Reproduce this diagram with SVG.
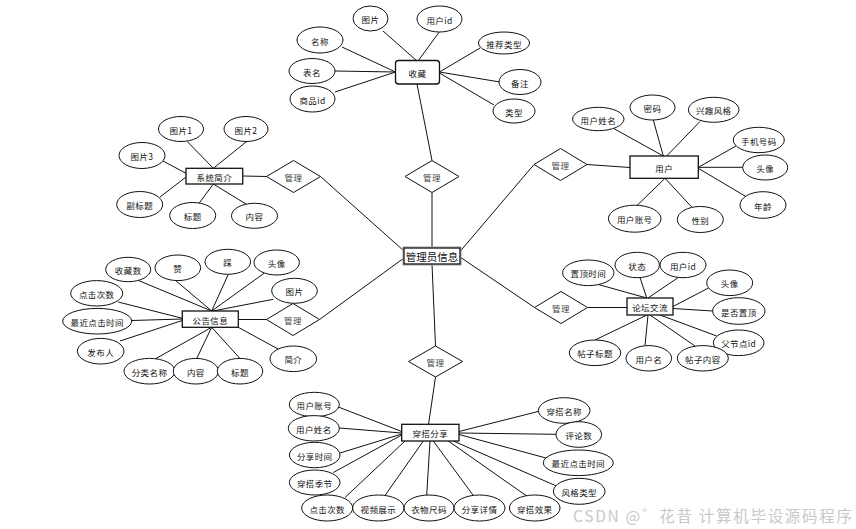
<svg xmlns="http://www.w3.org/2000/svg" width="856" height="529" viewBox="0 0 856 529">
<style>
text{font-family:"Noto Sans CJK SC","Liberation Sans",sans-serif;text-anchor:middle;dominant-baseline:central;fill:#111}
.a text{font-size:8.5px;letter-spacing:0.4px}
ellipse{fill:#fff;stroke:#111;stroke-width:1}
.e rect{fill:#fff;stroke:#111;stroke-width:1.3}
.d polygon{fill:#fff;stroke:#111;stroke-width:1}
.d text{font-size:8.5px;fill:#444;letter-spacing:0.4px}
.e text{font-size:8.5px;letter-spacing:0.4px}
#conn line{stroke:#111;stroke-width:1}
.wm{font-size:15.5px;fill:#c8c8c8;text-anchor:start}
</style>
<rect width="856" height="529" fill="#fff"/>
<g id="conn">
<line x1="417" y1="84" x2="432" y2="160.5"/>
<line x1="432" y1="192.5" x2="432" y2="248"/>
<line x1="320.5" y1="176.5" x2="404" y2="251"/>
<line x1="242.7" y1="176" x2="266.5" y2="176.5"/>
<line x1="319.5" y1="319.5" x2="404" y2="258"/>
<line x1="238.3" y1="319.5" x2="266.5" y2="319.5"/>
<line x1="534" y1="164.5" x2="460" y2="251.5"/>
<line x1="587" y1="164.5" x2="630" y2="167.5"/>
<line x1="534.5" y1="307.5" x2="460" y2="257"/>
<line x1="587.5" y1="307.5" x2="627" y2="307.5"/>
<line x1="432" y1="264" x2="435.5" y2="346"/>
<line x1="435.5" y1="377" x2="428.5" y2="424.5"/>
<line x1="383" y1="31" x2="417" y2="61"/>
<line x1="440" y1="31" x2="418" y2="61"/>
<line x1="342" y1="47" x2="395.5" y2="72"/>
<line x1="335" y1="71" x2="395.5" y2="72"/>
<line x1="335" y1="92" x2="395.5" y2="72"/>
<line x1="480" y1="48" x2="439.5" y2="72"/>
<line x1="500" y1="82" x2="439.5" y2="72"/>
<line x1="494" y1="105" x2="439.5" y2="73"/>
<line x1="187.3" y1="141.5" x2="213.3" y2="168.3"/>
<line x1="246.7" y1="141.5" x2="213.3" y2="168.3"/>
<line x1="163" y1="161" x2="186" y2="173.3"/>
<line x1="160" y1="197" x2="186" y2="177"/>
<line x1="199.3" y1="203" x2="213.3" y2="184"/>
<line x1="246" y1="204" x2="213.3" y2="184"/>
<line x1="613.3" y1="128.3" x2="663.3" y2="156"/>
<line x1="653.3" y1="120" x2="663.3" y2="156"/>
<line x1="700" y1="121.5" x2="666.7" y2="156"/>
<line x1="736" y1="146" x2="698.3" y2="167.3"/>
<line x1="742.7" y1="167.3" x2="698.3" y2="167.3"/>
<line x1="746.7" y1="197" x2="698.3" y2="168.3"/>
<line x1="637" y1="205.5" x2="665" y2="178.3"/>
<line x1="691.7" y1="207" x2="665" y2="178.3"/>
<line x1="139" y1="280.7" x2="211.7" y2="311"/>
<line x1="175" y1="280" x2="211.7" y2="311"/>
<line x1="228.3" y1="274.3" x2="211.7" y2="311"/>
<line x1="264" y1="273.3" x2="211.7" y2="311"/>
<line x1="273.3" y1="299.3" x2="213" y2="311"/>
<line x1="118.3" y1="302" x2="182.3" y2="318.3"/>
<line x1="131.7" y1="320.5" x2="182.3" y2="319"/>
<line x1="120" y1="341" x2="182.3" y2="320.5"/>
<line x1="155" y1="359" x2="211.7" y2="327.3"/>
<line x1="196.7" y1="358.5" x2="211.7" y2="327.3"/>
<line x1="240" y1="358.5" x2="211.7" y2="327.3"/>
<line x1="278" y1="349" x2="238.3" y2="327.3"/>
<line x1="598.3" y1="284.5" x2="646.7" y2="298"/>
<line x1="640" y1="277.5" x2="646.7" y2="298"/>
<line x1="678.3" y1="277.5" x2="648" y2="298"/>
<line x1="708.5" y1="288" x2="673" y2="306.5"/>
<line x1="712.6" y1="311" x2="673" y2="308.5"/>
<line x1="716.7" y1="336" x2="660" y2="315"/>
<line x1="695" y1="346" x2="650" y2="315"/>
<line x1="645" y1="345.7" x2="648" y2="315"/>
<line x1="595" y1="340" x2="647" y2="315"/>
<line x1="338.3" y1="407" x2="401.7" y2="431.5"/>
<line x1="339.3" y1="428" x2="401.7" y2="433"/>
<line x1="340" y1="453" x2="401.7" y2="434"/>
<line x1="333.3" y1="472.5" x2="401.7" y2="435"/>
<line x1="345" y1="497.5" x2="405" y2="441"/>
<line x1="385" y1="495.5" x2="423.3" y2="441"/>
<line x1="426.7" y1="495" x2="430" y2="441"/>
<line x1="473.3" y1="495.5" x2="433.3" y2="441"/>
<line x1="526.7" y1="496" x2="448.3" y2="441"/>
<line x1="540" y1="411" x2="459" y2="431.5"/>
<line x1="556" y1="434.3" x2="459" y2="433"/>
<line x1="546" y1="458" x2="459" y2="434.5"/>
<line x1="563.3" y1="489" x2="453.3" y2="441"/>
</g>

<g id="admin" class="e">
<rect x="403" y="247" width="58" height="18" fill="none" style="stroke:#999;stroke-width:1"/>
<rect x="404" y="248" width="56" height="16"/>
<text x="432" y="256.5" style="font-size:10.5px;letter-spacing:0">管理员信息</text>
</g>

<g id="rel-collect" class="d"><polygon points="432,160.5 459,176.5 432,192.5 405,176.5"/><text x="432" y="177">管理</text></g>
<g id="rel-sys" class="d"><polygon points="293.5,160.5 320.5,176.5 293.5,192.5 266.5,176.5"/><text x="293.5" y="177">管理</text></g>
<g id="rel-notice" class="d"><polygon points="293,303.5 319.5,319.5 293,335.5 266.5,319.5"/><text x="293" y="320">管理</text></g>
<g id="rel-user" class="d"><polygon points="560.5,148.5 587,164.5 560.5,180.5 534,164.5"/><text x="560.5" y="165">管理</text></g>
<g id="rel-forum" class="d"><polygon points="561,291.5 587.5,307.5 561,323.5 534.5,307.5"/><text x="561" y="308">管理</text></g>
<g id="rel-share" class="d"><polygon points="435.5,346 462.5,361.5 435.5,377 408.5,361.5"/><text x="435.5" y="362">管理</text></g>

<g id="collect" class="e"><rect x="395.5" y="60.5" width="44" height="23.5" rx="3"/><text x="417.5" y="72.5">收藏</text></g>
<g id="collect-attrs" class="a">
<ellipse cx="370.5" cy="18.5" rx="17.5" ry="12.5"/><text x="370.5" y="19">图片</text>
<ellipse cx="439.5" cy="19" rx="22.5" ry="13"/><text x="439.5" y="19.5">用户id</text>
<ellipse cx="320" cy="40" rx="23" ry="13"/><text x="320" y="40.5">名称</text>
<ellipse cx="312" cy="71" rx="23" ry="12.5"/><text x="312" y="71.5">表名</text>
<ellipse cx="312.5" cy="99" rx="22.5" ry="13"/><text x="312.5" y="99.5">商品id</text>
<ellipse cx="504" cy="43" rx="25.5" ry="11"/><text x="504" y="43.5">推荐类型</text>
<ellipse cx="520" cy="82" rx="21" ry="12.5"/><text x="520" y="82.5">备注</text>
<ellipse cx="514" cy="111" rx="21" ry="12"/><text x="514" y="111.5">类型</text>
</g>

<g id="sysintro" class="e"><rect x="186" y="168.3" width="56.7" height="15.7"/><text x="214.3" y="176.5">系统简介</text></g>
<g id="sysintro-attrs" class="a">
<ellipse cx="181" cy="129" rx="22.5" ry="12.5"/><text x="181" y="129.5">图片1</text>
<ellipse cx="246" cy="129" rx="22" ry="12.5"/><text x="246" y="129.5">图片2</text>
<ellipse cx="142" cy="155.5" rx="23" ry="13"/><text x="142" y="156">图片3</text>
<ellipse cx="139.7" cy="204.5" rx="23" ry="13"/><text x="139.7" y="205">副标题</text>
<ellipse cx="192.7" cy="215.5" rx="23" ry="13"/><text x="192.7" y="216">标题</text>
<ellipse cx="254.5" cy="215.8" rx="23" ry="12.5"/><text x="254.5" y="216.3">内容</text>
</g>

<g id="user" class="e"><rect x="630" y="156" width="68.3" height="22.3"/><text x="664.2" y="167.5">用户</text></g>
<g id="user-attrs" class="a">
<ellipse cx="598.3" cy="119" rx="25.7" ry="11.7"/><text x="598.3" y="119.5">用户姓名</text>
<ellipse cx="652.5" cy="107.5" rx="22.5" ry="12.5"/><text x="652.5" y="108">密码</text>
<ellipse cx="713.7" cy="109.8" rx="25.3" ry="12.5"/><text x="713.7" y="110.3">兴趣风格</text>
<ellipse cx="758.8" cy="140" rx="25.5" ry="12.7"/><text x="758.8" y="140.5">手机号码</text>
<ellipse cx="765.2" cy="167.5" rx="22.5" ry="12.5"/><text x="765.2" y="168">头像</text>
<ellipse cx="763" cy="205" rx="23" ry="13.3"/><text x="763" y="205.5">年龄</text>
<ellipse cx="634.7" cy="218.7" rx="26.3" ry="13.5"/><text x="634.7" y="219.2">用户账号</text>
<ellipse cx="700.3" cy="219.5" rx="23" ry="13"/><text x="700.3" y="220">性别</text>
</g>

<g id="notice" class="e"><rect x="182.3" y="311" width="56" height="16.3"/><text x="210.3" y="319.5">公告信息</text></g>
<g id="notice-attrs" class="a">
<ellipse cx="128.2" cy="269.5" rx="22.5" ry="12.2"/><text x="128.2" y="270">收藏数</text>
<ellipse cx="177.8" cy="267.8" rx="22.8" ry="12.8"/><text x="177.8" y="268.3">赞</text>
<ellipse cx="227.8" cy="261.8" rx="22.8" ry="12.5"/><text x="227.8" y="262.3">踩</text>
<ellipse cx="276.7" cy="262.5" rx="22.7" ry="12.5"/><text x="276.7" y="263">头像</text>
<ellipse cx="294.5" cy="290.8" rx="22.8" ry="12.5"/><text x="294.5" y="291.3">图片</text>
<ellipse cx="96.7" cy="293.3" rx="26" ry="12.7"/><text x="96.7" y="293.8">点击次数</text>
<ellipse cx="97.2" cy="321.2" rx="34.5" ry="12.8"/><text x="97.2" y="321.7">最近点击时间</text>
<ellipse cx="100.7" cy="351.2" rx="23.3" ry="12.8"/><text x="100.7" y="351.7">发布人</text>
<ellipse cx="149.5" cy="371.2" rx="25.5" ry="12.8"/><text x="149.5" y="371.7">分类名称</text>
<ellipse cx="195.8" cy="371.2" rx="22.5" ry="12.8"/><text x="195.8" y="371.7">内容</text>
<ellipse cx="240" cy="371.2" rx="22.7" ry="12.8"/><text x="240" y="371.7">标题</text>
<ellipse cx="293.3" cy="358.8" rx="23.3" ry="12.8"/><text x="293.3" y="359.3">简介</text>
</g>

<g id="forum" class="e"><rect x="627" y="298" width="46" height="17"/><text x="650" y="307">论坛交流</text></g>
<g id="forum-attrs" class="a">
<ellipse cx="588.3" cy="272.8" rx="25.7" ry="12.8"/><text x="588.3" y="273.3">置顶时间</text>
<ellipse cx="637.2" cy="265" rx="22.2" ry="12.7"/><text x="637.2" y="265.5">状态</text>
<ellipse cx="683" cy="265" rx="23" ry="12.7"/><text x="683" y="265.5">用户id</text>
<ellipse cx="729.7" cy="282.8" rx="23" ry="12.8"/><text x="729.7" y="283.3">头像</text>
<ellipse cx="738.8" cy="311" rx="26.2" ry="13.3"/><text x="738.8" y="311.5">是否置顶</text>
<ellipse cx="738.7" cy="342.8" rx="25.3" ry="12.8"/><text x="738.7" y="343.3">父节点id</text>
<ellipse cx="595" cy="352.8" rx="25.7" ry="12.8"/><text x="595" y="353.3">帖子标题</text>
<ellipse cx="648.8" cy="358.3" rx="22.8" ry="12.7"/><text x="648.8" y="358.8">用户名</text>
<ellipse cx="702.8" cy="358.3" rx="25.5" ry="12.7"/><text x="702.8" y="358.8">帖子内容</text>
</g>

<g id="share" class="e"><rect x="401.7" y="424.3" width="57.3" height="16.7"/><text x="430.3" y="433">穿搭分享</text></g>
<g id="share-attrs" class="a">
<ellipse cx="314.3" cy="404.5" rx="25" ry="12.2"/><text x="314.3" y="405">用户账号</text>
<ellipse cx="313.8" cy="428.3" rx="25.5" ry="12.7"/><text x="313.8" y="428.8">用户姓名</text>
<ellipse cx="314.7" cy="455" rx="25.3" ry="12.7"/><text x="314.7" y="455.5">分享时间</text>
<ellipse cx="314.7" cy="482.5" rx="25.3" ry="12.5"/><text x="314.7" y="483">穿搭季节</text>
<ellipse cx="327.2" cy="508" rx="25.5" ry="13"/><text x="327.2" y="508.5">点击次数</text>
<ellipse cx="378.3" cy="508" rx="25.7" ry="13"/><text x="378.3" y="508.5">视频展示</text>
<ellipse cx="429" cy="508" rx="25" ry="13"/><text x="429" y="508.5">衣物尺码</text>
<ellipse cx="479.5" cy="508" rx="25.5" ry="13"/><text x="479.5" y="508.5">分享详情</text>
<ellipse cx="534.7" cy="508" rx="25.3" ry="13"/><text x="534.7" y="508.5">穿搭效果</text>
<ellipse cx="564.2" cy="410.5" rx="25.8" ry="12.8"/><text x="564.2" y="411">穿搭名称</text>
<ellipse cx="578.8" cy="434.5" rx="22.8" ry="12.8"/><text x="578.8" y="435">评论数</text>
<ellipse cx="578.3" cy="462.8" rx="35" ry="12.8"/><text x="578.3" y="463.3">最近点击时间</text>
<ellipse cx="579.2" cy="491.3" rx="25.8" ry="13"/><text x="579.2" y="491.8">风格类型</text>
</g>

<text class="wm" x="573" y="514.5" textLength="279" lengthAdjust="spacing">CSDN @゛花昔  计算机毕设源码程序</text>
</svg>
